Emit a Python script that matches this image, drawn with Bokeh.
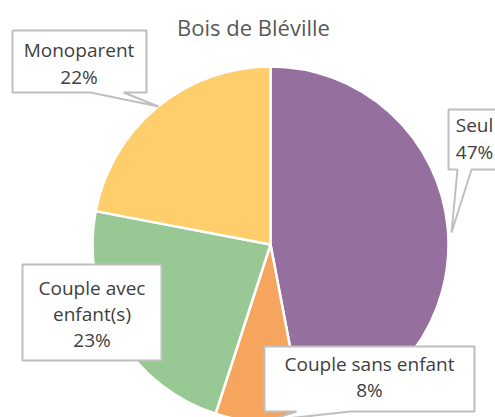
import numpy as np
from bokeh.plotting import figure
from bokeh.models import Range1d, ColumnDataSource
from bokeh.core.properties import value
from bokeh.embed import file_html
from bokeh.resources import INLINE

# ---- data ----
categories = ["Seul", "Couple sans enfant", "Couple avec enfant(s)", "Monoparent"]
shares = [47, 8, 23, 22]
colors = ["#956F9E", "#F6A55F", "#98C994", "#FECE6C"]
title = "Bois de Bléville"

W, H = 495, 417
def Y(ys):
    return [417 - y for y in ys]

p = figure(width=W, height=H, output_backend="svg", toolbar_location=None,
           x_range=Range1d(0, W), y_range=Range1d(0, H),
           min_border=0, outline_line_color=None)
p.axis.visible = False
p.grid.visible = False
p.background_fill_color = "white"

# pie
cx, cy, r = 270, 244, 178
vals = np.array(shares, dtype=float)
frac = vals / vals.sum()
cum = np.concatenate([[0], np.cumsum(frac)])
starts = np.pi / 2 - 2 * np.pi * cum[:-1]
ends = np.pi / 2 - 2 * np.pi * cum[1:]
src = ColumnDataSource(dict(x=[cx] * len(vals), y=[417 - cy] * len(vals),
                            start=starts, end=ends, color=colors))
p.wedge(x="x", y="y", radius=r, start_angle="start", end_angle="end",
        direction="clock", fill_color="color", line_color="white", line_width=2.5,
        source=src)

# callouts (label layout)
border = "#BFBFBF"
callouts = [
    # Monoparent
    ([12, 146, 146, 123, 158, 90, 12], [30, 30, 92, 92, 106, 92, 92]),
    # Couple avec enfant(s)
    ([22, 161, 161, 22], [264, 264, 360, 360]),
    # Couple sans enfant
    ([264, 474, 474, 350, 268, 296, 264], [346, 346, 411, 411, 420, 411, 411]),
    # Seul
    ([448, 506, 506, 471, 451, 457, 448], [109, 109, 169, 169, 232, 169, 169]),
]
for xs, ys in callouts:
    p.patch(xs, Y(ys), fill_color="white", line_color=border, line_width=2)

# text centres (middle of lowercase/cap region)
label_lines = [
    (78.5, [49, 76], ["Monoparent", f"{shares[3]}%"]),
    (91.5, [287, 313, 339], ["Couple avec", "enfant(s)", f"{shares[2]}%"]),
    (369, [363, 389], ["Couple sans enfant", f"{shares[1]}%"]),
    (474, [124, 151], ["Seul", f"{shares[0]}%"]),
]
for x, ys, texts in label_lines:
    p.text(x=[x] * len(texts), y=Y(ys), text=texts, text_align="center",
           text_baseline="middle", text_font=value("Open Sans"),
           text_font_size="19px", text_color="#404040")

p.text(x=[253], y=Y([26]), text=[title], text_align="center",
       text_baseline="middle", text_font=value("Open Sans"),
       text_font_size="22px", text_color="#595959")

open("out.html", "w").write(file_html(p, INLINE))
